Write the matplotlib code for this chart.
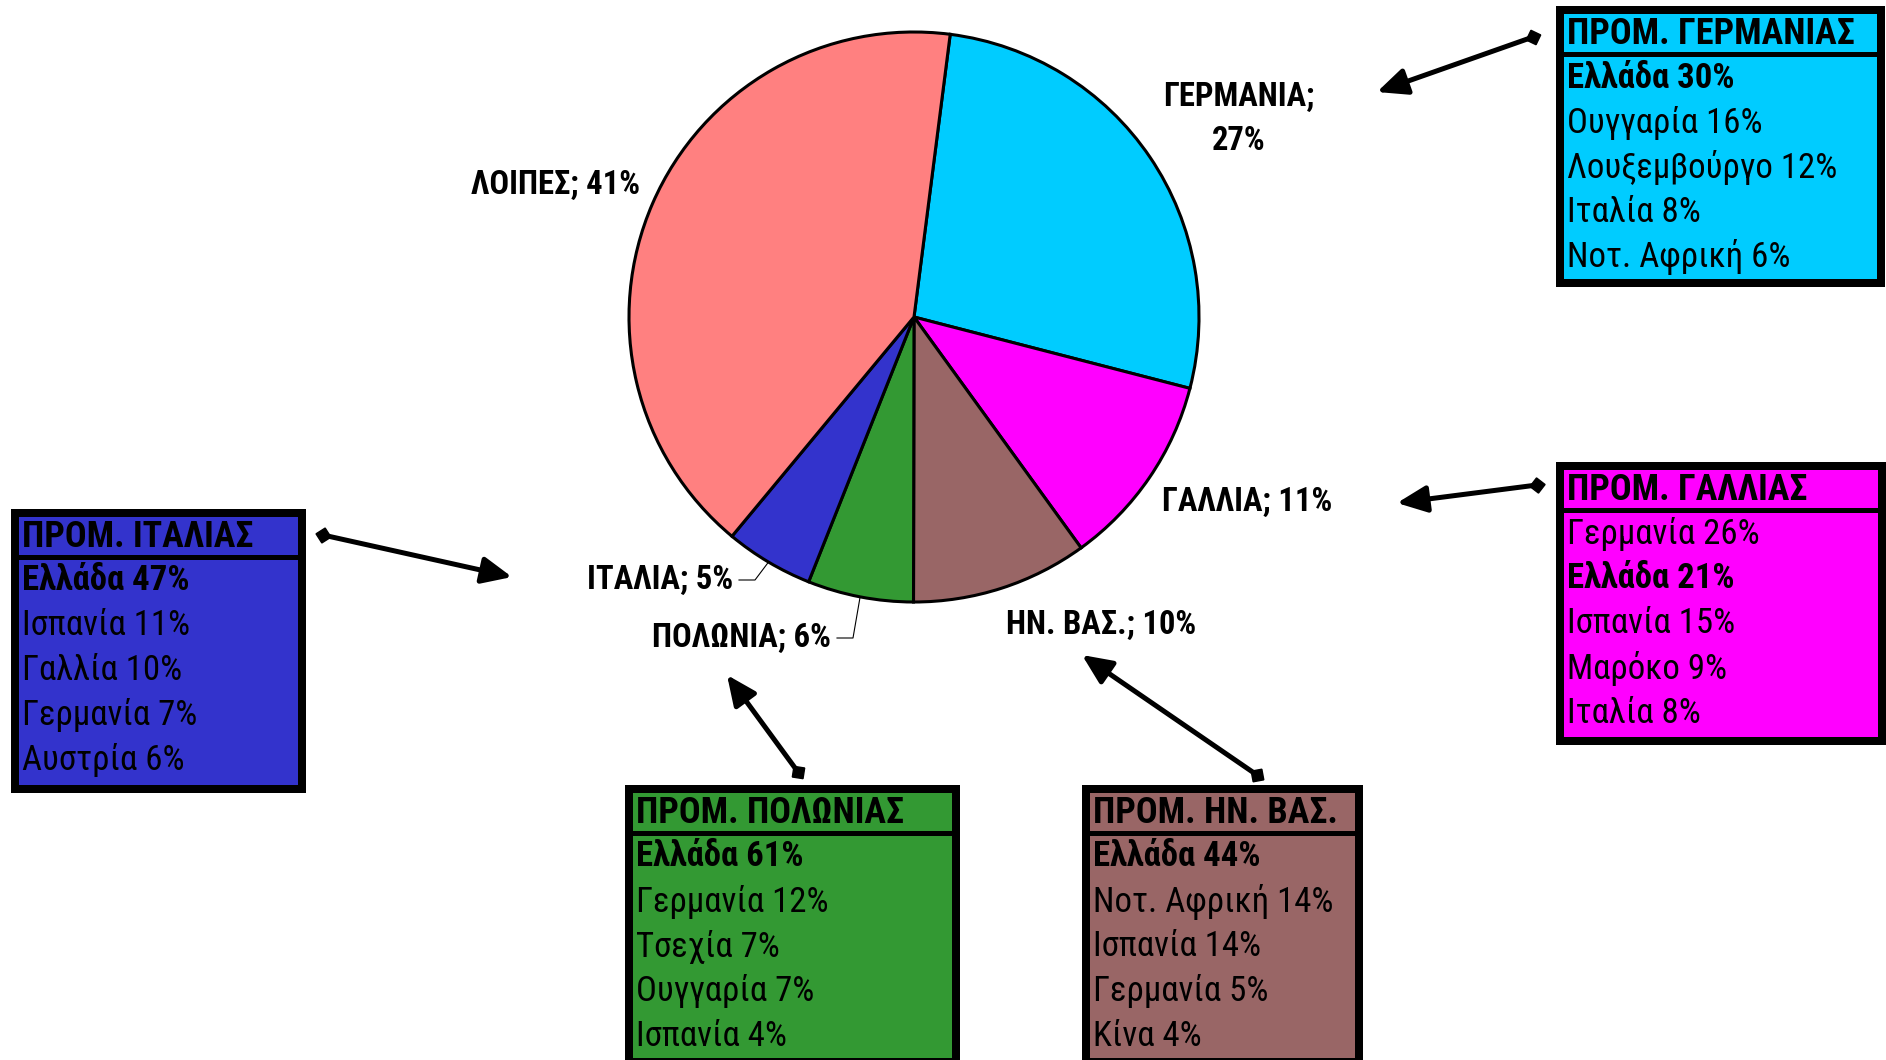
import numpy as np
import matplotlib
matplotlib.use("Agg")
import matplotlib.pyplot as plt
from matplotlib.patches import Rectangle, FancyArrowPatch

plt.rcParams['font.family'] = ['Roboto Condensed', 'DejaVu Sans']

# pie data
countries = ['ΓΕΡΜΑΝΙΑ', 'ΓΑΛΛΙΑ', 'ΗΝ. ΒΑΣ.', 'ΠΟΛΩΝΙΑ', 'ΙΤΑΛΙΑ', 'ΛΟΙΠΕΣ']
shares = [27, 11, 10, 6, 5, 41]
colors = ['#00CCFF', '#FF00FF', '#996666', '#339933', '#3333CC', '#FF8080']

# supplier tables (bold row = Ελλάδα)
germany_rows = ['Ελλάδα 30%', 'Ουγγαρία 16%', 'Λουξεμβούργο 12%', 'Ιταλία 8%', 'Νοτ. Αφρική 6%']
france_rows = ['Γερμανία 26%', 'Ελλάδα 21%', 'Ισπανία 15%', 'Μαρόκο 9%', 'Ιταλία 8%']
italy_rows = ['Ελλάδα 47%', 'Ισπανία 11%', 'Γαλλία 10%', 'Γερμανία 7%', 'Αυστρία 6%']
poland_rows = ['Ελλάδα 61%', 'Γερμανία 12%', 'Τσεχία 7%', 'Ουγγαρία 7%', 'Ισπανία 4%']
usa_rows = ['Ελλάδα 44%', 'Νοτ. Αφρική 14%', 'Ισπανία 14%', 'Γερμανία 5%', 'Κίνα 4%']

W, H = 1886, 1060
cx, cy, R = 914, 317, 285

fig = plt.figure(figsize=(W / 100, H / 100), dpi=100)
ax = fig.add_axes([0, 0, 1, 1])
ax.set_xlim(0, W)
ax.set_ylim(H, 0)
ax.axis('off')

# pie in its own square axes
pax = fig.add_axes([(cx - R) / W, 1 - (cy + R) / H, 2 * R / W, 2 * R / H])
wedges, _ = pax.pie(shares, colors=colors, startangle=82.7, counterclock=False,
                    radius=1, wedgeprops=dict(edgecolor='black', linewidth=2.2))
pax.set_xlim(-1, 1)
pax.set_ylim(-1, 1)
for w in wedges:
    w.set_clip_on(False)


def edge_point(w):
    # middle of wedge on the rim, in overlay pixel coords
    a = np.deg2rad((w.theta1 + w.theta2) / 2)
    p = pax.transData.transform((np.cos(a), np.sin(a)))
    return ax.transData.inverted().transform(p)


lab = dict(fontsize=23.5, fontweight='bold', va='center')
ax.text(1239, 119, countries[0] + ';\n' + str(shares[0]) + '%', ha='center', linespacing=1.5, **lab)
ax.text(1162, 502, countries[1] + '; ' + str(shares[1]) + '%', ha='left', **lab)
ax.text(1006, 625, countries[2] + '; ' + str(shares[2]) + '%', ha='left', **lab)
ax.text(831, 638, countries[3] + '; ' + str(shares[3]) + '%', ha='right', **lab)
ax.text(733, 580, countries[4] + '; ' + str(shares[4]) + '%', ha='right', **lab)
ax.text(640, 185, countries[5] + '; ' + str(shares[5]) + '%', ha='right', **lab)

# leader lines for the small slices
for w, (x0, y0) in [(wedges[3], (837, 638)), (wedges[4], (739, 580))]:
    ex, ey = edge_point(w)
    ax.plot([x0, x0 + 16, ex], [y0, y0, ey], color='black', lw=0.8)


def table_box(x0, y0, x1, y1, title, rows, color):
    ax.add_patch(Rectangle((x0, y0), x1 - x0, y1 - y0, facecolor='black', edgecolor='none'))
    ax.add_patch(Rectangle((x0 + 8, y0 + 8), x1 - x0 - 16, 38, facecolor=color, edgecolor='none'))
    ax.add_patch(Rectangle((x0 + 8, y0 + 51), x1 - x0 - 16, y1 - y0 - 59, facecolor=color, edgecolor='none'))
    ax.text(x0 + 11, y0 + 28, title, fontsize=26, fontweight='bold', va='center', ha='left')
    for i, r in enumerate(rows):
        ax.text(x0 + 11, y0 + 72 + i * 44.8, r, fontsize=25, va='center', ha='left',
                fontweight='bold' if r.startswith('Ελλάδα') else 'normal')


table_box(1556, 6, 1885, 287, 'ΠΡΟΜ. ΓΕΡΜΑΝΙΑΣ', germany_rows, colors[0])
table_box(1556, 462, 1886, 745, 'ΠΡΟΜ. ΓΑΛΛΙΑΣ', france_rows, colors[1])
table_box(1082, 785, 1363, 1066, 'ΠΡΟΜ. ΗΝ. ΒΑΣ.', usa_rows, colors[2])
table_box(625, 785, 960, 1066, 'ΠΡΟΜ. ΠΟΛΩΝΙΑΣ', poland_rows, colors[3])
table_box(11, 509, 306, 793, 'ΠΡΟΜ. ΙΤΑΛΙΑΣ', italy_rows, colors[4])


# arrows: diamond at box end, triangle at pie end
def link(tail, tip):
    ax.add_patch(FancyArrowPatch(tail, tip, arrowstyle='-|>,head_length=0.6,head_width=0.27',
                                 mutation_scale=30, color='black', lw=3.6, shrinkA=0, shrinkB=0))
    ang = np.degrees(np.arctan2(tip[1] - tail[1], tip[0] - tail[0]))
    ax.plot(tail[0], tail[1], marker=(4, 0, -ang), markersize=11, color='black')


link((1533, 37), (1377, 92))
link((1537, 485), (1397, 503))
link((323, 535), (512, 577))
link((798, 772), (727, 675))
link((1257, 775), (1082, 655))

fig.savefig('out.png', dpi=100)
